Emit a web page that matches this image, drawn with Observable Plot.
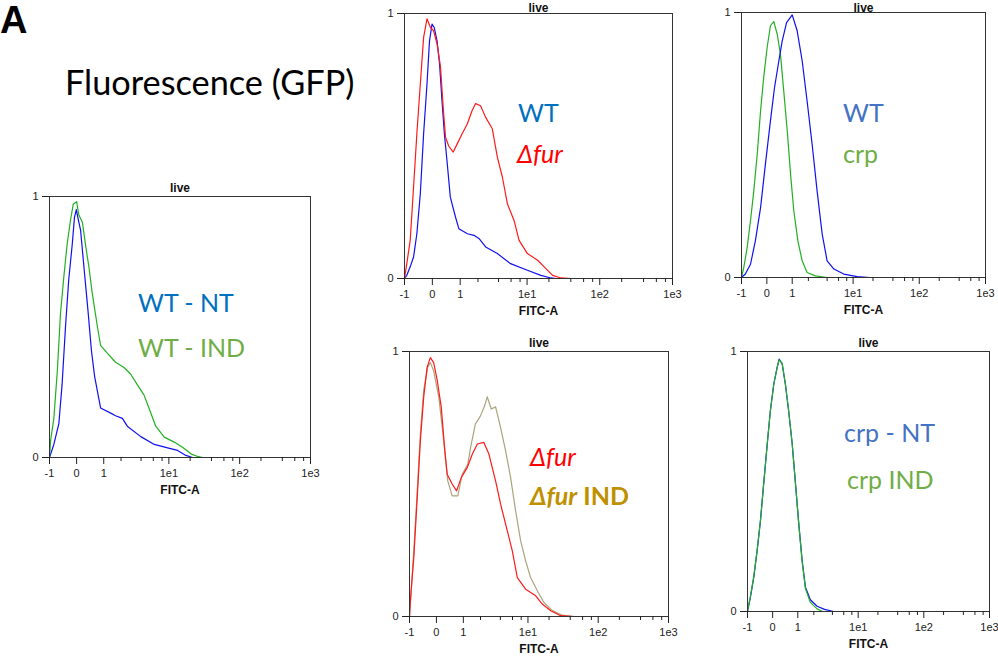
<!DOCTYPE html>
<html>
<head>
<meta charset="utf-8">
<script src="https://cdn.jsdelivr.net/npm/d3@7"></script>
<script src="https://cdn.jsdelivr.net/npm/@observablehq/plot@0.6"></script>
<style>
  html, body { margin: 0; padding: 0; background: #fff; overflow: hidden; }
  #page { position: relative; width: 998px; height: 659px; overflow: hidden; background: #fff; }
  .panel { position: absolute; }
  #overlay { position: absolute; left: 0; top: 0; pointer-events: none; }
  .leg { font-family: Lato, "Open Sans", sans-serif; font-size: 25px; }
</style>
</head>
<body>
<div id="page">
  <div class="panel" id="p1"></div>
  <div class="panel" id="p2"></div>
  <div class="panel" id="p3"></div>
  <div class="panel" id="p4"></div>
  <div class="panel" id="p5"></div>
  <svg id="overlay" width="998" height="659">
    <text x="0" y="33" font-family="Liberation Sans, Arial, sans-serif" font-weight="bold" font-size="38" fill="#000">A</text>
    <text x="65" y="95" font-family="Lato, 'Open Sans', sans-serif" font-size="34.3" fill="#000">Fluorescence (GFP)</text>
    <text class="leg" x="138" y="312" fill="#0070C0">WT - NT</text>
    <text class="leg" x="138" y="357" fill="#70AD47">WT - IND</text>
    <text class="leg" x="518" y="122" fill="#0070C0">WT</text>
    <text class="leg" x="517" y="163" fill="#FF0000" font-style="italic">Δfur</text>
    <text class="leg" x="843" y="122" fill="#4472C4">WT</text>
    <text class="leg" x="843" y="163" fill="#70AD47">crp</text>
    <text class="leg" x="530" y="466" fill="#FF0000" font-style="italic">Δfur</text>
    <text class="leg" x="530" y="505" fill="#BF9000" font-weight="bold"><tspan font-style="italic">Δfur</tspan> IND</text>
    <text class="leg" x="844" y="442" fill="#4472C4">crp - NT</text>
    <text class="leg" x="847" y="489" fill="#70AD47">crp IND</text>
  </svg>
</div>
<script>
// ---- axis definitions (FITC-A, biexponential-like display) ----
const fitcTicks = [-1, 0, 1, 10, 100, 1000];
const fitcTickLabels = ["-1", "0", "1", "1e1", "1e2", "1e3"];
const fitcMinorTicks = [2, 4, 6, 8, 20, 40, 60, 80, 200, 400, 600, 800];
const countTicks = [0, 1];
const countTickLabels = ["0", "1"];

// ---- series: [FITC-A value, normalized count] ----
const wtNT_p1 = [[-1,0],[-0.81,0.05],[-0.61,0.13],[-0.49,0.28],[-0.37,0.5],[-0.26,0.68],[-0.14,0.82],[-0.07,0.92],[-0.01,0.95],[0.04,0.92],[0.13,0.87],[0.24,0.73],[0.38,0.56],[0.5,0.41],[0.62,0.31],[0.86,0.19],[1.35,0.17],[1.63,0.16],[2.1,0.15],[2.5,0.12],[3.96,0.08],[6.2,0.05],[9.6,0.037],[13.3,0.027],[17.4,0.008],[21.6,0]];
const wtIND_p1 = [[-1,0],[-0.95,0.065],[-0.81,0.15],[-0.67,0.33],[-0.55,0.55],[-0.43,0.69],[-0.31,0.82],[-0.2,0.91],[-0.11,0.97],[0,0.98],[0.07,0.93],[0.19,0.9],[0.3,0.81],[0.41,0.73],[0.53,0.63],[0.73,0.5],[0.86,0.43],[1.17,0.4],[1.63,0.365],[2.23,0.345],[2.8,0.32],[3.5,0.28],[4.4,0.24],[5.2,0.19],[6.5,0.12],[8.6,0.078],[11.9,0.059],[15.6,0.039],[20.5,0.014],[25.5,0.004],[30,0]];
const wt_p2 = [[-1,0],[-0.9,0.012],[-0.76,0.044],[-0.63,0.081],[-0.51,0.169],[-0.39,0.32],[-0.28,0.546],[-0.17,0.734],[-0.09,0.897],[-0.01,0.96],[0.06,0.947],[0.15,0.897],[0.23,0.81],[0.31,0.671],[0.39,0.546],[0.49,0.433],[0.6,0.307],[0.8,0.232],[0.94,0.188],[1.35,0.169],[1.73,0.163],[2.07,0.151],[2.61,0.119],[3.85,0.094],[5.9,0.056],[10.1,0.031],[15.5,0.012],[21.3,0.002],[25,0]];
const fur_p2 = [[-1,0],[-0.9,0.056],[-0.76,0.144],[-0.63,0.345],[-0.51,0.546],[-0.39,0.734],[-0.28,0.91],[-0.17,0.98],[-0.06,0.947],[0.04,0.935],[0.15,0.885],[0.26,0.8],[0.35,0.646],[0.43,0.533],[0.54,0.5],[0.71,0.477],[0.87,0.508],[1.09,0.546],[1.35,0.584],[1.62,0.634],[1.84,0.66],[2.19,0.652],[2.61,0.608],[3.26,0.565],[3.85,0.458],[4.53,0.383],[5.33,0.282],[6.6,0.219],[7.75,0.144],[10.1,0.094],[14,0.069],[17.2,0.044],[22.5,0.012],[29.3,0.002],[40,0]];
const wt_p3 = [[-1,0],[-0.82,0.013],[-0.6,0.05],[-0.41,0.138],[-0.22,0.264],[-0.05,0.428],[0.125,0.591],[0.27,0.717],[0.43,0.818],[0.56,0.893],[0.74,0.962],[1.0,0.991],[1.26,0.931],[1.56,0.818],[1.9,0.667],[2.31,0.503],[2.78,0.327],[3.35,0.164],[4,0.063],[5.1,0.032],[7.2,0.013],[11.5,0.003],[18,0]];
const crp_p3 = [[-1,0],[-0.89,0.038],[-0.74,0.113],[-0.6,0.214],[-0.47,0.327],[-0.34,0.466],[-0.22,0.629],[-0.11,0.755],[0.01,0.868],[0.125,0.95],[0.24,0.966],[0.37,0.918],[0.49,0.843],[0.62,0.705],[0.77,0.554],[0.92,0.39],[1.08,0.252],[1.3,0.138],[1.56,0.063],[1.9,0.019],[2.6,0.006],[4,0]];
const fur_p4 = [[-1,0],[-0.95,0.072],[-0.81,0.223],[-0.67,0.449],[-0.55,0.663],[-0.43,0.826],[-0.31,0.94],[-0.2,0.977],[-0.09,0.958],[0.03,0.889],[0.16,0.789],[0.27,0.638],[0.36,0.537],[0.54,0.5],[0.71,0.474],[0.91,0.525],[1.19,0.562],[1.47,0.613],[1.78,0.651],[2.26,0.657],[2.7,0.613],[3.4,0.512],[4.03,0.424],[5.05,0.323],[5.96,0.248],[7.04,0.147],[9.26,0.103],[12.9,0.078],[16,0.047],[21.1,0.022],[29.2,0.003],[45,0]];
const furIND_p4 = [[-1,0],[-0.92,0.097],[-0.81,0.248],[-0.67,0.474],[-0.55,0.688],[-0.43,0.852],[-0.29,0.94],[-0.2,0.958],[-0.09,0.927],[0.08,0.826],[0.23,0.675],[0.38,0.512],[0.54,0.455],[0.76,0.455],[0.95,0.537],[1.22,0.575],[1.37,0.638],[1.65,0.726],[2.0,0.757],[2.32,0.795],[2.55,0.829],[2.93,0.783],[3.4,0.791],[4.03,0.713],[4.77,0.625],[5.63,0.525],[6.65,0.399],[7.85,0.286],[9.26,0.21],[10.9,0.147],[13.6,0.097],[16.9,0.053],[22.3,0.022],[30.9,0.005],[45,0]];
const crpNT_p5 = [[-1,0],[-0.86,0.055],[-0.71,0.132],[-0.57,0.234],[-0.44,0.35],[-0.32,0.491],[-0.19,0.645],[-0.08,0.772],[0.04,0.875],[0.16,0.939],[0.23,0.971],[0.34,0.952],[0.46,0.875],[0.59,0.772],[0.74,0.645],[0.89,0.491],[1.05,0.337],[1.23,0.196],[1.42,0.093],[1.74,0.045],[2.27,0.02],[3.0,0.008],[4.2,0]];
const crpIND_p5 = [[-1,0],[-0.86,0.058],[-0.71,0.135],[-0.57,0.236],[-0.44,0.35],[-0.32,0.49],[-0.19,0.645],[-0.08,0.772],[0.04,0.875],[0.16,0.94],[0.23,0.968],[0.34,0.955],[0.46,0.876],[0.59,0.772],[0.74,0.645],[0.89,0.49],[1.05,0.335],[1.23,0.19],[1.42,0.088],[1.74,0.035],[2.27,0.01],[2.8,0]];

const BLUE = "#1010f0", GREEN = "#22b022", RED = "#ff1a1a", OLIVE = "#aaa47c";
const tickFont = "'Liberation Sans Narrow', 'Arial Narrow', 'Liberation Sans', Arial, sans-serif";
const boldFont = "'Liberation Sans', Arial, sans-serif";
const AXIS = "#222";
const xMin = Math.asinh(fitcTicks[0]), xMax = Math.asinh(fitcTicks[fitcTicks.length - 1]);

function fmtTick(d) {
  const i = fitcTicks.findIndex(v => Math.abs(Math.asinh(v) - d) < 1e-9);
  return i >= 0 ? fitcTickLabels[i] : "";
}

// Each panel: the box spans [xMin,xMax] x [0,1]; the plotting area is extended by
// PAD px to the left and bottom so that the outward ticks lie inside it.
const PAD = 8;
function makePanel(id, cfg) {
  const el = document.getElementById(id);
  el.style.left = cfg.left + "px";
  el.style.top = cfg.top + "px";
  const mT = 25, mL = 30 - PAD, mB = cfg.marginBottom - PAD;
  const boxH = cfg.height - 25 - cfg.marginBottom;
  const boxW = cfg.width - 30 - cfg.marginRight;
  const yPad = PAD / boxH, xPad = PAD * (xMax - xMin) / boxW;
  const majorLen = 7 / boxH, minorLen = 4 / boxH, yTickLen = 7 * (xMax - xMin) / boxW;
  const marks = cfg.series.map(s =>
    Plot.line(s.data, {x: d => Math.asinh(d[0]), y: d => d[1], stroke: s.color, strokeWidth: 1.2})
  );
  const chart = Plot.plot({
    width: cfg.width, height: cfg.height,
    marginLeft: mL, marginRight: cfg.marginRight, marginTop: mT, marginBottom: mB,
    x: {domain: [xMin - xPad, xMax], axis: null},
    y: {domain: [-yPad, 1], axis: null},
    style: {background: "transparent", overflow: "visible", fontFamily: tickFont},
    marks: [
      ...marks,
      // box
      Plot.ruleY([0, 1], {y: d => d, x1: xMin, x2: xMax, stroke: "#333", strokeWidth: 1}),
      Plot.ruleX([xMin, xMax], {x: d => d, y1: 0, y2: 1, stroke: "#333", strokeWidth: 1}),
      // outward ticks
      Plot.ruleX(fitcMinorTicks, {x: d => Math.asinh(d), y1: 0, y2: -minorLen, stroke: AXIS, strokeWidth: 1}),
      Plot.ruleX(fitcTicks, {x: d => Math.asinh(d), y1: 0, y2: -majorLen, stroke: AXIS, strokeWidth: 1}),
      Plot.ruleY(countTicks, {y: d => d, x1: xMin, x2: xMin - yTickLen, stroke: AXIS, strokeWidth: 1}),
      // tick labels
      Plot.axisX({ticks: fitcTicks.map(Math.asinh), tickSize: 0, tickPadding: 4, tickFormat: fmtTick, label: null, fontSize: 11, fill: "#222"}),
      Plot.axisY({ticks: countTicks, tickSize: 0, tickPadding: 3, tickFormat: d => countTickLabels[countTicks.indexOf(d)], label: null, fontSize: 11, fill: "#222"}),
      Plot.text(["live"], {frameAnchor: "top", dx: PAD / 2, lineAnchor: "bottom", dy: cfg.titleDy, fontWeight: "bold", fontSize: 12, fontFamily: boldFont, fill: "#111"}),
      Plot.text(["FITC-A"], {frameAnchor: "bottom", dx: PAD / 2, lineAnchor: "top", dy: 28 - PAD, fontWeight: "bold", fontSize: 12, fontFamily: boldFont, fill: "#111"})
    ]
  });
  el.appendChild(chart);
}

makePanel("p1", {left: 19, top: 171, width: 311, height: 331, marginRight: 20, marginBottom: 45, titleDy: -5,
  series: [{data: wtNT_p1, color: BLUE}, {data: wtIND_p1, color: GREEN}]});
makePanel("p2", {left: 374, top: -12, width: 318, height: 335, marginRight: 20, marginBottom: 45, titleDy: -1.5,
  series: [{data: wt_p2, color: BLUE}, {data: fur_p2, color: RED}]});
makePanel("p3", {left: 711, top: -13, width: 274, height: 335, marginRight: 0, marginBottom: 45, titleDy: -1,
  series: [{data: crp_p3, color: GREEN}, {data: wt_p3, color: BLUE}]});
makePanel("p4", {left: 379, top: 326, width: 309, height: 335, marginRight: 20, marginBottom: 45, titleDy: -5,
  series: [{data: furIND_p4, color: OLIVE}, {data: fur_p4, color: RED}]});
makePanel("p5", {left: 717, top: 326, width: 272, height: 330, marginRight: 0, marginBottom: 45, titleDy: -5,
  series: [{data: crpNT_p5, color: BLUE}, {data: crpIND_p5, color: GREEN}]});
</script>
</body>
</html>
